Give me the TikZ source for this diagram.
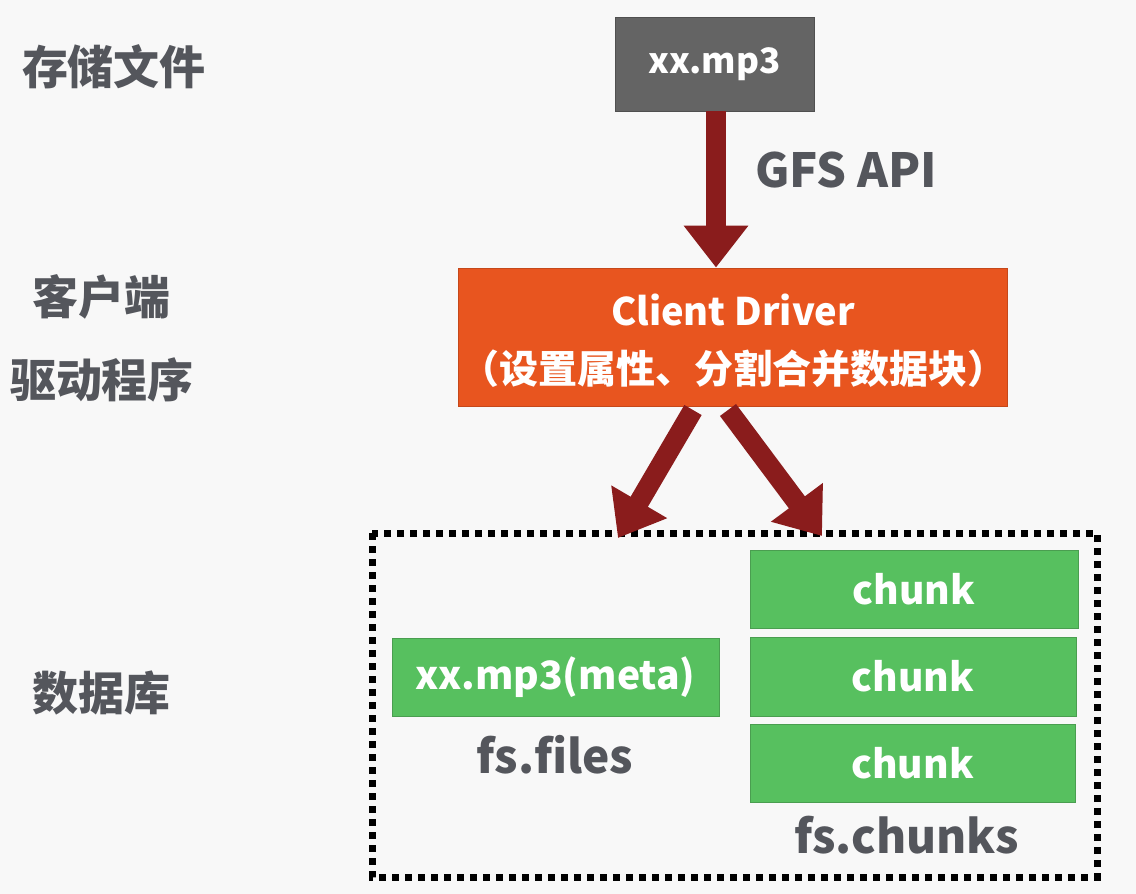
\documentclass[tikz,border=0pt]{standalone}
\usepackage{fontspec}
\setmainfont{Noto Sans CJK SC}
\usetikzlibrary{arrows.meta}
\definecolor{bg}{HTML}{F8F8F8}
\definecolor{boxgray}{HTML}{646464}
\definecolor{drvorange}{HTML}{E8551F}
\definecolor{dbgreen}{HTML}{57C05F}
\definecolor{dbgreenb}{HTML}{4A9E50}
\definecolor{arrowred}{HTML}{8A1C1C}
\definecolor{txtgray}{HTML}{54565C}
\newcommand{\fs}[1]{\fontsize{#1}{#1}\selectfont}
\tikzset{
  sidelabel/.style={text=txtgray, inner sep=0pt, font=\fs{46}\bfseries},
  filebox/.style={fill=boxgray, draw=boxgray!80!black, line width=0.8pt, minimum width=199pt, minimum height=94pt, text=white, font=\fs{35}\bfseries, inner sep=0pt},
  drvbox/.style={fill=drvorange, draw=drvorange!85!black, line width=0.8pt, minimum width=549pt, minimum height=138pt, text=white, inner sep=0pt, align=center},
  greenbox/.style={fill=dbgreen, draw=dbgreenb, line width=0.8pt, minimum width=327pt, minimum height=78pt, text=white, font=\fs{39}\bfseries, inner sep=0pt},
  caption/.style={text=txtgray, inner sep=0pt, font=\fs{46}\bfseries},
  bigarrow/.style={draw=arrowred, line width=20pt, -{Triangle[width=62pt,length=42pt,fill=arrowred]}},
  dotframe/.style={draw=black, line width=7pt, dash pattern=on 7pt off 6pt}
}
\begin{document}
\begin{tikzpicture}[x=1pt,y=-1pt]
\fill[bg] (0,0) rectangle (1136,894);
\useasboundingbox (0,0) rectangle (1136,894);

% side labels
\node[sidelabel] (l1) at (114,67) {存储文件};
\node[sidelabel] (l2) at (101,297) {客户端};
\node[sidelabel] (l3) at (102,380) {驱动程序};
\node[sidelabel] (l4) at (101,693) {数据库};

% nodes
\node[filebox] (file) at (714.5,64) {xx.mp3};
\node[drvbox] (drv) at (732.5,337) {};
\node[text=white, inner sep=0pt, font=\fs{38}\bfseries] (drv1) at (733,310) {Client Driver};
\node[text=white, inner sep=0pt, font=\fs{39}\bfseries] (drv2) at (733,369) {（设置属性、分割合并数据块）};

\node[text=txtgray, inner sep=0pt, font=\fs{47}\bfseries] (gfs) at (846,170) {GFS API};

% dotted database frame
\draw[dotframe] (372,533) rectangle (1097,877);
\coordinate (t1) at (618,538);
\coordinate (t2) at (822,536);
\coordinate (s1) at (693,410);
\coordinate (s2) at (728,410);

\node[greenbox] (meta) at (555.5,677) {xx.mp3(meta)};
\node[caption] (files) at (555,755) {fs.files};

\node[greenbox, minimum width=328pt] (c1) at (914,589) {chunk};
\node[greenbox, minimum width=326pt, minimum height=79pt] (c2) at (913,676.5) {chunk};
\node[greenbox, minimum width=325pt] (c3) at (912.5,763) {chunk};
\node[caption] (chunks) at (907,835) {fs.chunks};

% arrows
\draw[bigarrow] ([xshift=1.5pt]file.south) -- ([xshift=1.5pt]file.south |- drv.north);
\draw[bigarrow] (s1) -- (t1);
\draw[bigarrow] (s2) -- (t2);
\end{tikzpicture}
\end{document}
